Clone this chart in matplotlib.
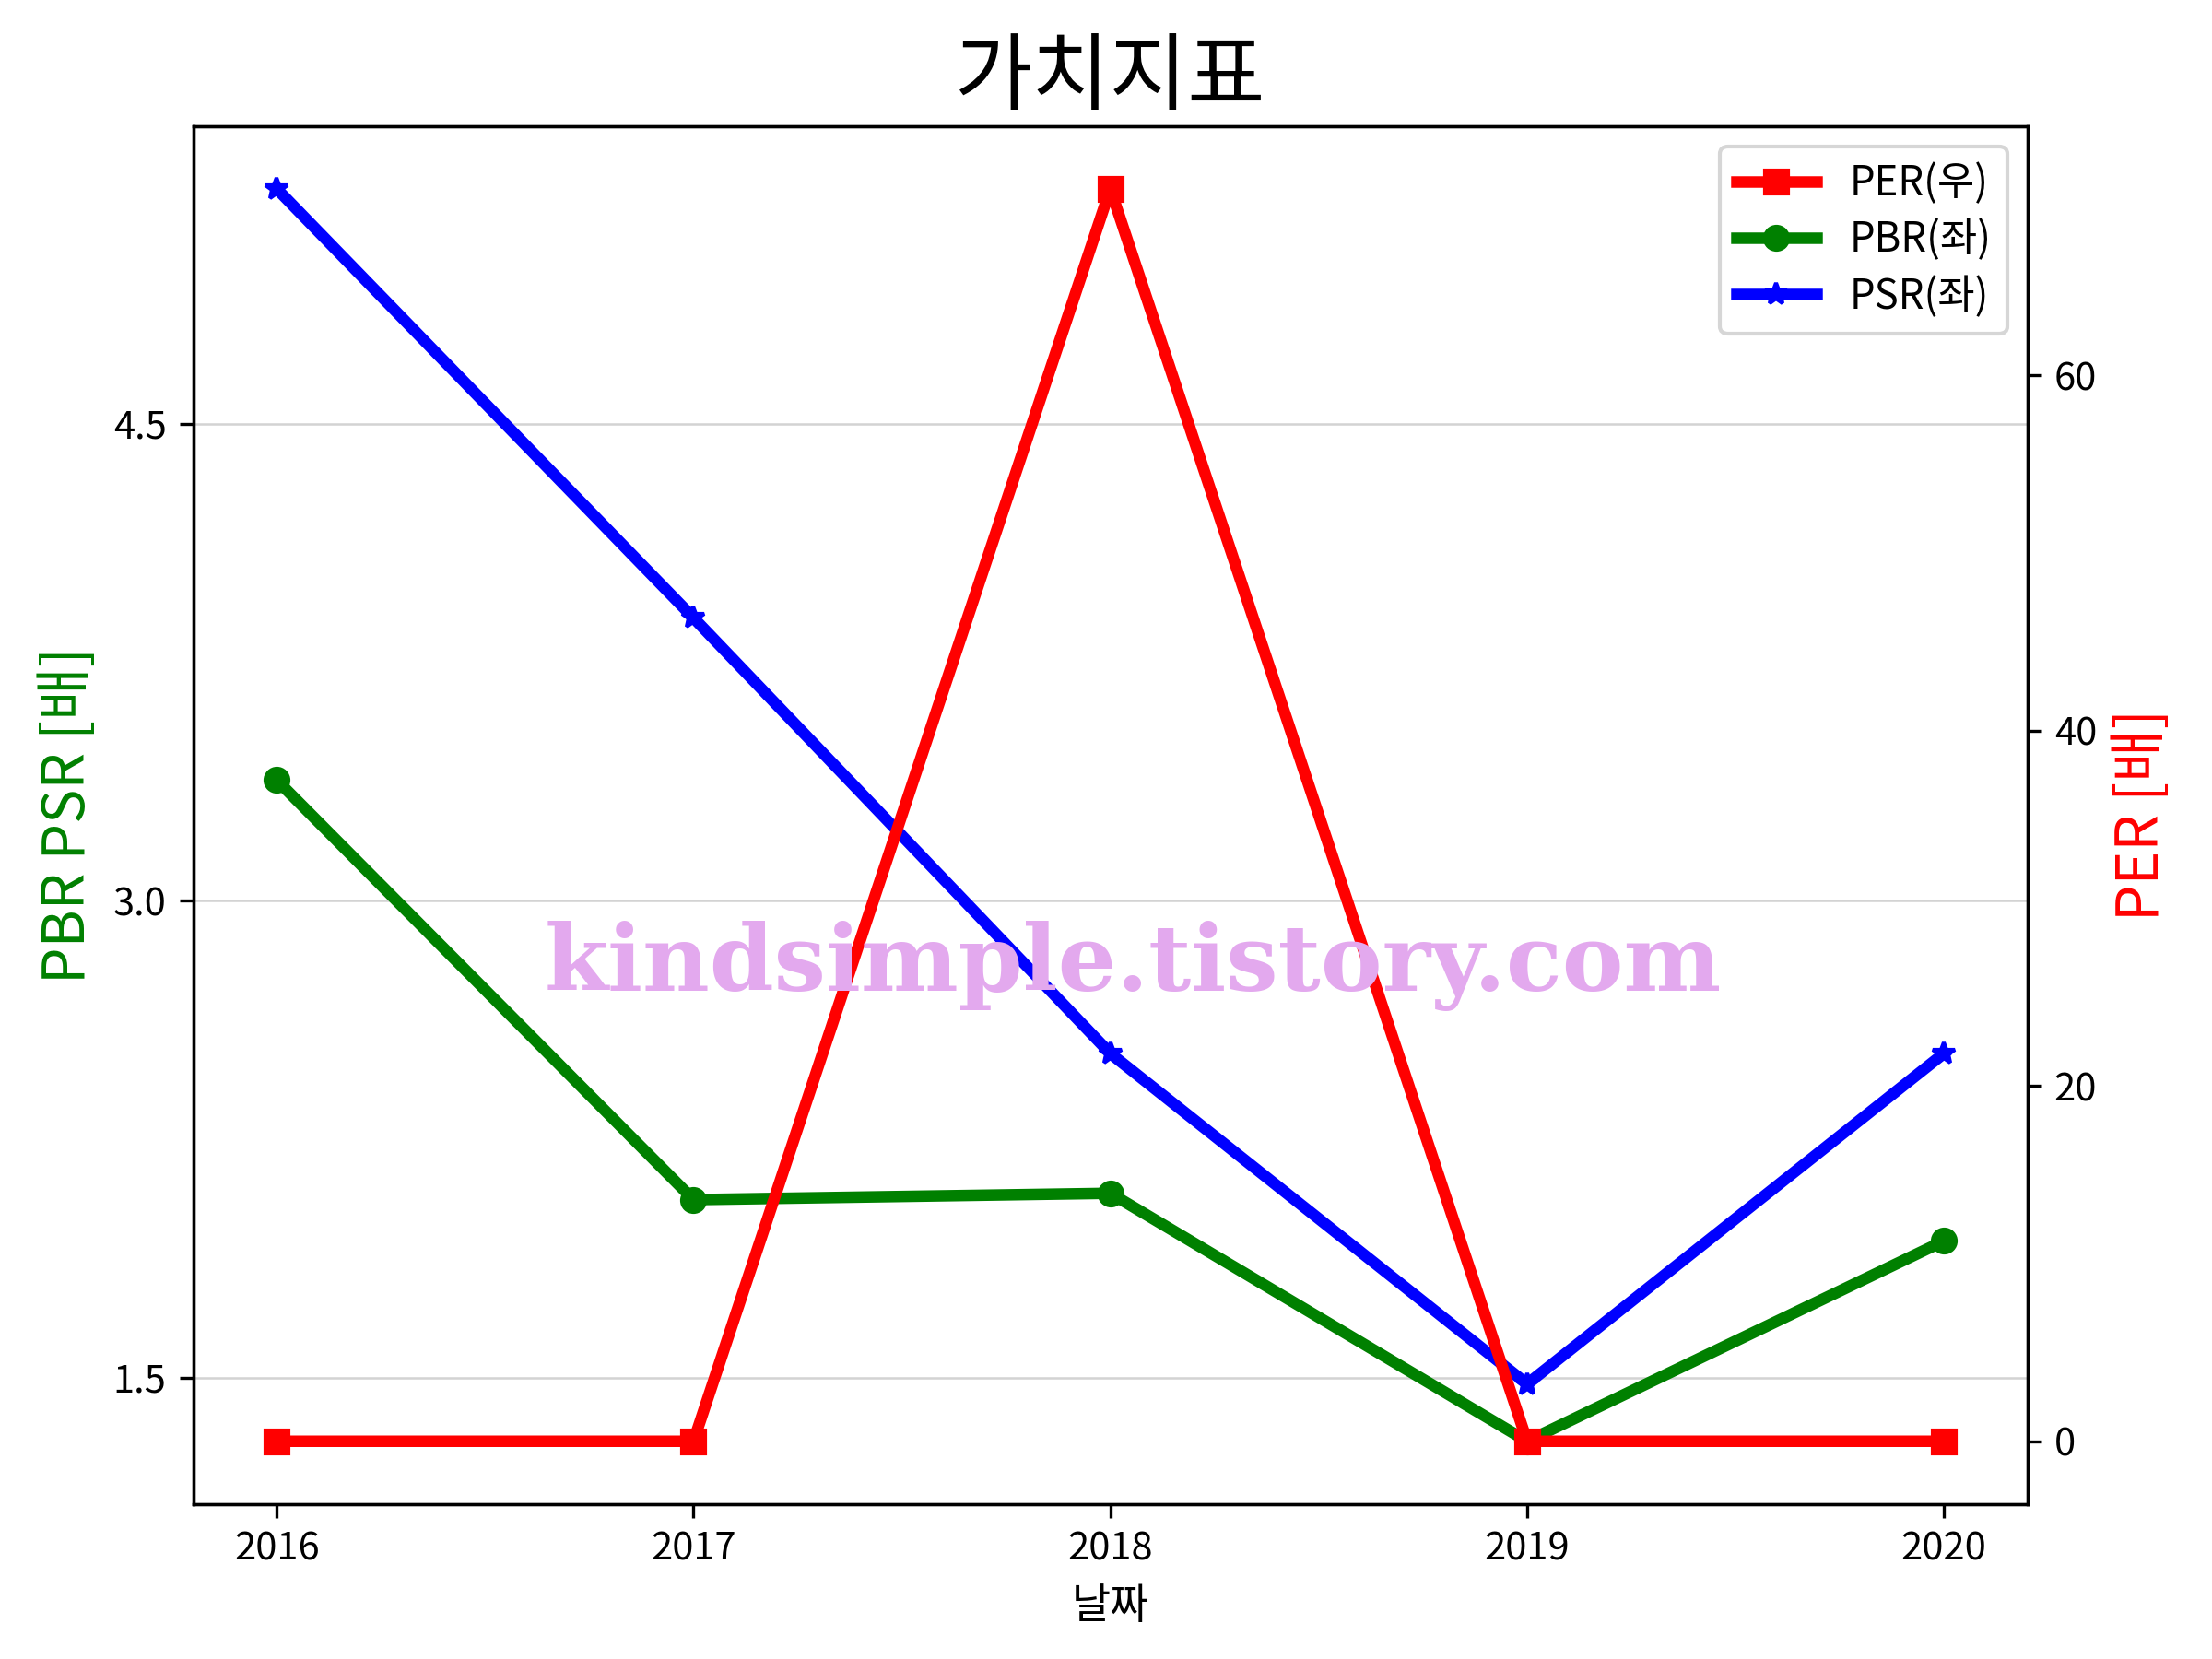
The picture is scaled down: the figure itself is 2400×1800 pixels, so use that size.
import matplotlib
matplotlib.use("Agg")
import matplotlib.pyplot as plt

plt.rcParams["font.family"] = ["Noto Sans CJK KR", "DejaVu Sans"]
plt.rcParams["axes.unicode_minus"] = False

years = [2016, 2017, 2018, 2019, 2020]
per = [0.0, 0.0, 70.5, 0.0, 0.0]
pbr = [3.38, 2.06, 2.08, 1.30, 1.93]
psr = [5.24, 3.89, 2.52, 1.48, 2.52]
left_ticks = [1.5, 3.0, 4.5]
right_ticks = [0, 20, 40, 60]

fig, ax1 = plt.subplots(figsize=(8, 6), dpi=300)
ax2 = ax1.twinx()

l_per, = ax2.plot(years, per, color="red", marker="s", lw=3, ms=6, label="PER(우)")
l_pbr, = ax1.plot(years, pbr, color="green", marker="o", lw=3, ms=6, label="PBR(좌)")
l_psr, = ax1.plot(years, psr, color="blue", marker="*", lw=3, ms=6, label="PSR(좌)")

ax1.set_xticks(years)
ax1.set_xticklabels([str(y) for y in years])
ax1.set_yticks(left_ticks)
ax2.set_yticks(right_ticks)
ax1.grid(True, axis="y", color="lightgray", lw=0.6)

ax1.set_xlabel("날짜", fontsize=11)
ax1.set_ylabel("PBR PSR [배]", color="green", fontsize=15)
ax2.set_ylabel("PER [배]", color="red", fontsize=15)
ax1.set_title("가치지표", fontsize=22)

ax2.legend(handles=[l_per, l_pbr, l_psr], loc="upper right", fontsize=10.5,
           labelspacing=0.35)

fig.text(0.512, 0.418, "kindsimple.tistory.com", color="#E3A9EE",
         fontsize=24, fontweight="bold", family="DejaVu Serif",
         ha="center", va="center")

fig.subplots_adjust(left=0.0874, right=0.9165, top=0.924, bottom=0.0935)
fig.savefig("out.png")
